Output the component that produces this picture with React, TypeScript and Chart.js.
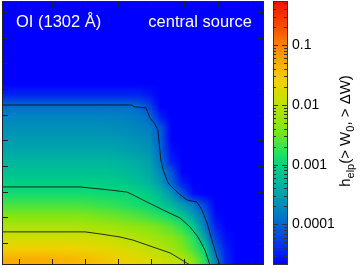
import React, { useEffect, useRef } from 'react';
import { Chart, registerables } from 'chart.js';

Chart.register(...registerables);

// ---- axes (data units; ticks without labels) ----
const X_MAX = 7.9;
const Y_MAX = 10.28;
const xTickValues = [0.5, 1.5, 2.5, 3.5, 4.5, 5.5, 6.5, 7.5];
const yTickValues = [0.857, 1.857, 2.857, 3.857, 4.857, 5.857, 6.857, 7.857, 8.857, 9.857];

// ---- colour bar (log10 range) ----
const colorbarMinLog = -4.68;
const colorbarMaxLog = -0.26;
const colorbarDecades = [-4, -3, -2, -1];
const colorbarLabels = ['0.0001', '0.001', '0.01', '0.1'];

// ---- texts ----
const lineLabel = 'OI (1302 Å)';
const sourceLabel = 'central source';

// ---- contour lines (levels 1e-4, 1e-3, 1e-2) ----
const contour1e4X = [0, 3.92, 3.98, 4.34, 4.46, 4.61, 4.70, 4.79, 4.86, 5.01, 5.31, 5.58, 5.88, 6.03, 6.18, 6.33, 6.48, 6.57];
const contour1e4Y = [6.23, 6.23, 6.16, 6.12, 5.73, 5.49, 5.26, 4.09, 3.70, 3.19, 2.80, 2.53, 2.45, 2.14, 1.64, 0.97, 0.31, 0];
const contour1e3X = [0, 2.35, 3.26, 3.77, 3.95, 4.25, 4.86, 5.37, 5.67, 5.91, 6.12, 6.27];
const contour1e3Y = [3.04, 3.04, 2.92, 2.84, 2.73, 2.53, 2.14, 1.83, 1.48, 1.09, 0.58, 0];
const contour1e2X = [0, 2.50, 2.96, 3.56, 3.95, 4.55, 5.07, 5.43, 5.67];
const contour1e2Y = [1.29, 1.29, 1.21, 1.09, 0.97, 0.70, 0.47, 0.19, 0];

// ---- heat map: log10(h) on a 24 x 24 grid, top row first ----
const heatLog: number[][] = [
  [-5, -5, -5, -5, -5, -5, -5, -5, -5, -5, -5, -5, -5, -5, -5, -5, -5, -5, -5, -5, -5, -5, -5, -5],
  [-5, -5, -5, -5, -5, -5, -5, -5, -5, -5, -5, -5, -5, -5, -5, -5, -5, -5, -5, -5, -5, -5, -5, -5],
  [-5, -5, -5, -5, -5, -5, -5, -5, -5, -5, -5, -5, -5, -5, -5, -5, -5, -5, -5, -5, -5, -5, -5, -5],
  [-5, -5, -5, -5, -5, -5, -5, -5, -5, -5, -5, -5, -5, -5, -5, -5, -5, -5, -5, -5, -5, -5, -5, -5],
  [-5, -5, -5, -5, -5, -5, -5, -5, -5, -5, -5, -5, -5, -5, -5, -5, -5, -5, -5, -5, -5, -5, -5, -5],
  [-5, -5, -5, -5, -5, -5, -5, -5, -5, -5, -5, -5, -5, -5, -5, -5, -5, -5, -5, -5, -5, -5, -5, -5],
  [-5, -5, -5, -5, -5, -5, -5, -5, -5, -5, -5, -5, -5, -5, -5, -5, -5, -5, -5, -5, -5, -5, -5, -5],
  [-5, -5, -5, -5, -5, -5, -5, -5, -5, -5, -5, -5, -5, -5, -5, -5, -5, -5, -5, -5, -5, -5, -5, -5],
  [-4.45, -4.45, -4.45, -4.45, -4.45, -4.45, -4.45, -4.45, -4.45, -4.45, -4.45, -4.45, -4.45, -4.55, -4.85, -5, -5, -5, -5, -5, -5, -5, -5, -5],
  [-3.95, -3.95, -3.95, -3.95, -3.95, -3.95, -3.95, -3.95, -3.95, -3.95, -3.95, -3.95, -4.0, -4.25, -4.7, -5, -5, -5, -5, -5, -5, -5, -5, -5],
  [-3.75, -3.75, -3.75, -3.75, -3.75, -3.75, -3.75, -3.75, -3.75, -3.76, -3.77, -3.8, -3.85, -3.97, -4.5, -4.9, -5, -5, -5, -5, -5, -5, -5, -5],
  [-3.65, -3.65, -3.65, -3.65, -3.65, -3.65, -3.65, -3.65, -3.65, -3.65, -3.67, -3.7, -3.75, -3.82, -4.1, -4.8, -5, -5, -5, -5, -5, -5, -5, -5],
  [-3.55, -3.55, -3.55, -3.55, -3.55, -3.55, -3.55, -3.55, -3.55, -3.55, -3.57, -3.6, -3.65, -3.72, -4.05, -4.7, -5, -5, -5, -5, -5, -5, -5, -5],
  [-3.45, -3.45, -3.45, -3.45, -3.45, -3.45, -3.45, -3.45, -3.45, -3.45, -3.47, -3.5, -3.55, -3.62, -4.0, -4.6, -5, -5, -5, -5, -5, -5, -5, -5],
  [-3.3, -3.3, -3.3, -3.3, -3.3, -3.3, -3.3, -3.3, -3.3, -3.3, -3.33, -3.36, -3.42, -3.5, -3.9, -4.5, -4.95, -5, -5, -5, -5, -5, -5, -5],
  [-3.2, -3.2, -3.2, -3.2, -3.2, -3.2, -3.2, -3.2, -3.2, -3.2, -3.22, -3.26, -3.32, -3.42, -3.72, -4.15, -4.7, -5, -5, -5, -5, -5, -5, -5],
  [-3.05, -3.05, -3.05, -3.05, -3.05, -3.05, -3.05, -3.05, -3.06, -3.08, -3.1, -3.15, -3.22, -3.32, -3.55, -4.0, -4.5, -4.9, -5, -5, -5, -5, -5, -5],
  [-2.9, -2.9, -2.9, -2.9, -2.9, -2.9, -2.9, -2.9, -2.92, -2.93, -2.95, -2.97, -3.0, -3.1, -3.3, -3.6, -4.1, -4.6, -4.95, -5, -5, -5, -5, -5],
  [-2.65, -2.65, -2.65, -2.65, -2.65, -2.65, -2.65, -2.67, -2.7, -2.73, -2.77, -2.83, -2.9, -2.97, -3.1, -3.3, -3.55, -3.85, -4.25, -4.8, -5, -5, -5, -5],
  [-2.4, -2.4, -2.4, -2.4, -2.4, -2.4, -2.4, -2.42, -2.45, -2.48, -2.52, -2.57, -2.63, -2.7, -2.8, -2.93, -3.15, -3.5, -3.95, -4.6, -5, -5, -5, -5],
  [-2.1, -2.1, -2.1, -2.1, -2.1, -2.1, -2.1, -2.12, -2.15, -2.18, -2.22, -2.27, -2.33, -2.4, -2.48, -2.6, -2.78, -3.1, -3.8, -4.45, -4.9, -5, -5, -5],
  [-1.85, -1.85, -1.85, -1.85, -1.85, -1.85, -1.85, -1.85, -1.88, -1.92, -1.97, -2.02, -2.08, -2.16, -2.25, -2.37, -2.52, -2.8, -3.45, -4.25, -4.6, -4.9, -5, -5],
  [-1.6, -1.6, -1.6, -1.6, -1.6, -1.6, -1.62, -1.65, -1.68, -1.72, -1.76, -1.82, -1.88, -1.95, -2.05, -2.2, -2.4, -2.65, -3.0, -4.0, -4.5, -4.88, -5, -5],
  [-1.3, -1.3, -1.3, -1.3, -1.32, -1.35, -1.38, -1.42, -1.47, -1.52, -1.58, -1.65, -1.72, -1.8, -1.88, -1.95, -2.05, -2.35, -2.8, -3.75, -4.45, -4.85, -5, -5],
];

// ---- palette (log10 value -> rgb) ----
const paletteStops: [number, number, number, number][] = [
  [-4.68, 0, 0, 255],
  [-4.43, 0, 40, 240],
  [-4.16, 0, 80, 220],
  [-3.87, 0, 120, 200],
  [-3.59, 0, 150, 180],
  [-3.32, 0, 180, 160],
  [-3.03, 0, 210, 130],
  [-2.82, 30, 225, 100],
  [-2.41, 130, 230, 20],
  [-1.91, 200, 225, 0],
  [-1.62, 240, 210, 0],
  [-1.35, 250, 180, 0],
  [-1.0, 250, 130, 0],
  [-0.78, 250, 90, 0],
  [-0.28, 240, 20, 0],
];

function colorFor(v: number): [number, number, number] {
  if (v <= paletteStops[0][0]) return [paletteStops[0][1], paletteStops[0][2], paletteStops[0][3]];
  for (let i = 1; i < paletteStops.length; i++) {
    const a = paletteStops[i - 1];
    const b = paletteStops[i];
    if (v <= b[0]) {
      const t = (v - a[0]) / (b[0] - a[0]);
      return [a[1] + (b[1] - a[1]) * t, a[2] + (b[2] - a[2]) * t, a[3] + (b[3] - a[3]) * t];
    }
  }
  const l = paletteStops[paletteStops.length - 1];
  return [l[1], l[2], l[3]];
}

const FONT = '"Liberation Sans", Arial, Helvetica, sans-serif';
const CB_LEFT = 273;
const CB_WIDTH = 14;

const heatPlugin = {
  id: 'heatmap',
  beforeDatasetsDraw(chart: any) {
    const { ctx, chartArea, scales } = chart;
    const xs = scales.x;
    const ys = scales.y;
    const cb = scales.cb;
    const ny = heatLog.length;
    const nx = heatLog[0].length;
    const off = document.createElement('canvas');
    off.width = nx;
    off.height = ny;
    const octx = off.getContext('2d')!;
    const img = octx.createImageData(nx, ny);
    for (let j = 0; j < ny; j++) {
      for (let i = 0; i < nx; i++) {
        const [r, g, b] = colorFor(heatLog[j][i]);
        const k = (j * nx + i) * 4;
        img.data[k] = r;
        img.data[k + 1] = g;
        img.data[k + 2] = b;
        img.data[k + 3] = 255;
      }
    }
    octx.putImageData(img, 0, 0);
    const x0 = xs.getPixelForValue(0);
    const x1 = xs.getPixelForValue(X_MAX);
    const y0 = ys.getPixelForValue(Y_MAX);
    const y1 = ys.getPixelForValue(0);
    ctx.save();
    ctx.imageSmoothingEnabled = true;
    ctx.drawImage(off, 0, 0, nx, ny, x0, y0, x1 - x0, y1 - y0);
    ctx.restore();

    // colour bar
    ctx.save();
    for (let py = Math.floor(chartArea.top); py < Math.ceil(chartArea.bottom); py++) {
      const v = Math.log10(cb.getValueForPixel(py + 0.5));
      const [r, g, b] = colorFor(v);
      ctx.fillStyle = `rgb(${Math.round(r)},${Math.round(g)},${Math.round(b)})`;
      ctx.fillRect(CB_LEFT, py, CB_WIDTH, 1);
    }
    ctx.restore();
  },
  afterDatasetsDraw(chart: any) {
    const { ctx, chartArea, scales } = chart;
    const { left, right, top, bottom } = chartArea;
    const xs = scales.x;
    const ys = scales.y;
    const cb = scales.cb;
    ctx.save();
    // frame
    ctx.strokeStyle = '#222';
    ctx.lineWidth = 1;
    ctx.strokeRect(left + 0.5, top + 0.5, right - left - 1, bottom - top - 1);
    // ticks
    ctx.beginPath();
    for (const v of xTickValues) {
      const px = Math.round(xs.getPixelForValue(v)) + 0.5;
      ctx.moveTo(px, bottom);
      ctx.lineTo(px, bottom - 6);
      ctx.moveTo(px, top);
      ctx.lineTo(px, top + 6);
    }
    for (const v of yTickValues) {
      const py = Math.round(ys.getPixelForValue(v)) + 0.5;
      ctx.moveTo(left, py);
      ctx.lineTo(left + 6, py);
      ctx.moveTo(right, py);
      ctx.lineTo(right - 6, py);
    }
    ctx.stroke();

    // colour bar frame and ticks
    ctx.strokeStyle = '#333';
    ctx.strokeRect(CB_LEFT + 0.5, top + 0.5, CB_WIDTH, bottom - top - 1);
    ctx.beginPath();
    for (let d = -5; d <= 0; d++) {
      for (let m = 1; m <= 9; m++) {
        const val = m * Math.pow(10, d);
        const lv = Math.log10(val);
        if (lv <= colorbarMinLog + 0.01 || lv >= colorbarMaxLog - 0.01) continue;
        const py = Math.round(cb.getPixelForValue(val)) + 0.5;
        const len = m === 1 ? 5 : 3;
        ctx.moveTo(CB_LEFT, py);
        ctx.lineTo(CB_LEFT + len, py);
        ctx.moveTo(CB_LEFT + CB_WIDTH, py);
        ctx.lineTo(CB_LEFT + CB_WIDTH - len, py);
      }
    }
    ctx.stroke();

    // labels inside the plot
    ctx.fillStyle = '#fff';
    ctx.font = `16.5px ${FONT}`;
    ctx.textBaseline = 'alphabetic';
    ctx.textAlign = 'left';
    ctx.fillText(lineLabel, 16, 27);
    ctx.textAlign = 'right';
    ctx.fillText(sourceLabel, 252, 27);

    // colour bar title with subscripts
    const parts: [string, boolean][] = [
      ['h', false],
      ['elp', true],
      ['(> W', false],
      ['0', true],
      [', > ΔW)', false],
    ];
    const big = `15px ${FONT}`;
    const small = `11px ${FONT}`;
    let total = 0;
    for (const [t, sub] of parts) {
      ctx.font = sub ? small : big;
      total += ctx.measureText(t).width;
    }
    ctx.translate(350, 131);
    ctx.rotate(-Math.PI / 2);
    ctx.fillStyle = '#000';
    ctx.textAlign = 'left';
    let x = -total / 2;
    for (const [t, sub] of parts) {
      ctx.font = sub ? small : big;
      ctx.fillText(t, x, sub ? 4 : 0);
      x += ctx.measureText(t).width;
    }
    ctx.restore();
  },
};

function toPoints(xs: number[], ys: number[]) {
  return xs.map((x, i) => ({ x, y: ys[i] }));
}

export default function App() {
  const ref = useRef<HTMLCanvasElement>(null);
  useEffect(() => {
    document.body.style.margin = '0';
    const lineStyle = {
      showLine: true,
      pointRadius: 0,
      borderColor: 'rgba(15,15,15,0.85)',
      borderWidth: 1,
      fill: false,
      tension: 0,
    };
    const chart = new Chart(ref.current!, {
      type: 'scatter',
      data: {
        datasets: [
          { label: '1e-4', data: toPoints(contour1e4X, contour1e4Y), ...lineStyle },
          { label: '1e-3', data: toPoints(contour1e3X, contour1e3Y), ...lineStyle },
          { label: '1e-2', data: toPoints(contour1e2X, contour1e2Y), ...lineStyle },
        ],
      },
      options: {
        animation: false,
        responsive: false,
        devicePixelRatio: 1,
        events: [],
        layout: { padding: { left: 2, top: 1, right: 0, bottom: 3 } },
        plugins: {
          legend: { display: false },
          tooltip: { enabled: false },
          title: { display: false },
        },
        scales: {
          x: { type: 'linear', min: 0, max: X_MAX, display: false },
          y: { type: 'linear', min: 0, max: Y_MAX, display: false },
          cb: {
            type: 'logarithmic',
            position: 'right',
            display: true,
            min: Math.pow(10, colorbarMinLog),
            max: Math.pow(10, colorbarMaxLog),
            grid: { display: false, drawTicks: true, tickLength: 24, drawOnChartArea: false },
            border: { display: false },
            ticks: {
              padding: 4,
              autoSkip: false,
              color: '#000',
              font: { family: FONT, size: 14 },
              callback: (value: any) => {
                const l = Math.log10(Number(value));
                if (Math.abs(l - Math.round(l)) > 1e-6) return '';
                const idx = colorbarDecades.indexOf(Math.round(l));
                return idx >= 0 ? colorbarLabels[idx] : '';
              },
            },
            afterFit: (scale: any) => {
              scale.width = 96;
              scale.paddingTop = 0;
              scale.paddingBottom = 0;
            },
          },
        },
      } as any,
      plugins: [heatPlugin],
    });
    return () => chart.destroy();
  }, []);
  return (
    <div style={{ position: 'absolute', left: 0, top: 0, width: 360, height: 268 }}>
      <canvas ref={ref} width={360} height={268} style={{ display: 'block', width: 360, height: 268 }} />
    </div>
  );
}
